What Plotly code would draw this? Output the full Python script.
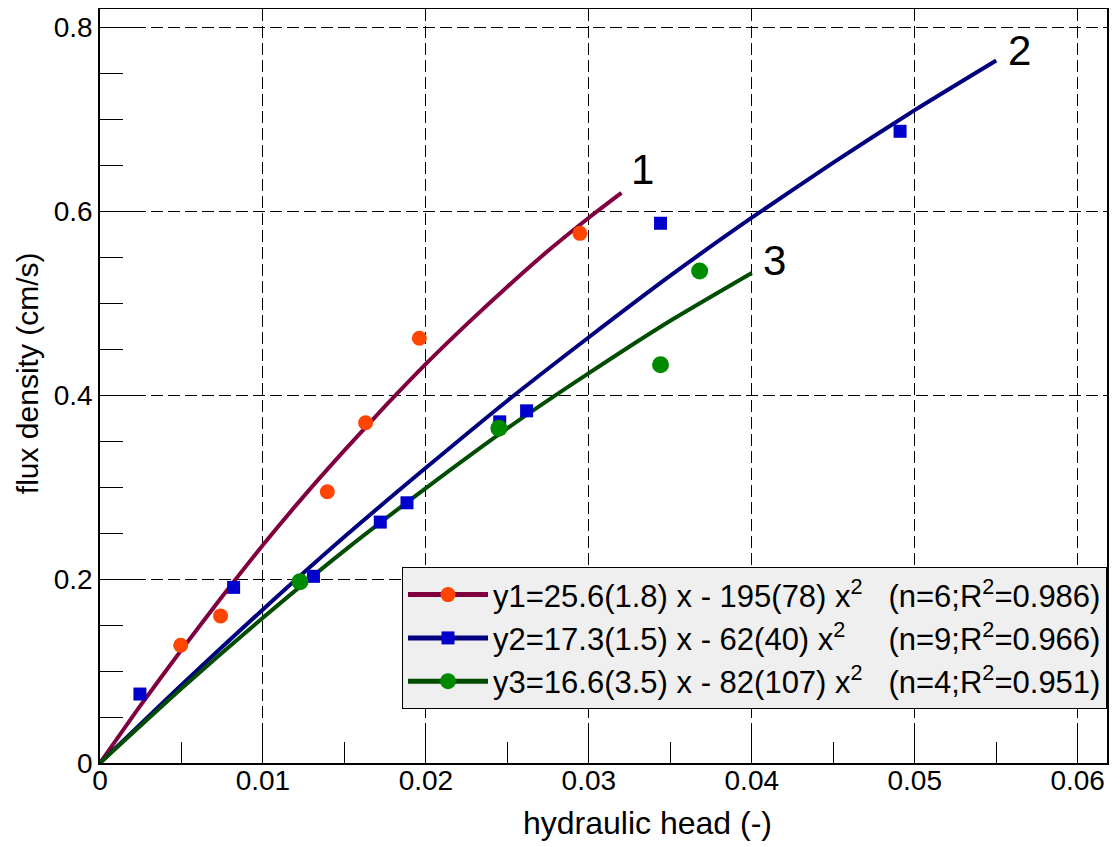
import plotly.graph_objects as go

# ---- measured data points ----
s1_x = [0.00495, 0.0074, 0.01395, 0.0163, 0.0196, 0.02945]
s1_y = [0.128, 0.160, 0.295, 0.370, 0.462, 0.576]

s2_x = [0.00245, 0.0082, 0.0131, 0.0172, 0.01884, 0.02453, 0.02618, 0.0344, 0.0491]
s2_y = [0.075, 0.191, 0.203, 0.262, 0.283, 0.371, 0.383, 0.587, 0.687]

s3_x = [0.01227, 0.02448, 0.0344, 0.0368]
s3_y = [0.197, 0.364, 0.433, 0.535]

# ---- fitted curves ----
fit1_x = [0, 0.0025, 0.005, 0.0075, 0.01, 0.0125, 0.015, 0.0175, 0.02, 0.0225, 0.025, 0.0275, 0.03, 0.032]
fit1_y = [0, 0.063, 0.123, 0.181, 0.237, 0.290, 0.340, 0.388, 0.434, 0.477, 0.518, 0.557, 0.593, 0.620]

fit2_x = [0, 0.005, 0.01, 0.015, 0.02, 0.025, 0.03, 0.035, 0.04, 0.045, 0.05, 0.055]
fit2_y = [0, 0.085, 0.167, 0.246, 0.321, 0.394, 0.463, 0.530, 0.593, 0.653, 0.710, 0.764]

fit3_x = [0, 0.005, 0.01, 0.015, 0.02, 0.025, 0.03, 0.035, 0.04]
fit3_y = [0, 0.081, 0.158, 0.231, 0.299, 0.364, 0.424, 0.481, 0.533]

legend_names = [
    "y1=25.6(1.8) x - 195(78) x<sup>2</sup>\u00a0\u00a0\u00a0(n=6;R<sup>2</sup>=0.986)",
    "y2=17.3(1.5) x - 62(40) x<sup>2</sup>\u00a0\u00a0\u00a0\u00a0\u00a0(n=9;R<sup>2</sup>=0.966)",
    "y3=16.6(3.5) x - 82(107) x<sup>2</sup>\u00a0\u00a0\u00a0(n=4;R<sup>2</sup>=0.951)",
]
curve_labels = ["1", "2", "3"]
label_x = [0.0333, 0.0564, 0.0414]
label_y = [0.645, 0.775, 0.547]

x_title = "hydraulic head (-)"
y_title = "flux density (cm/s)"

line_colors = ["#80003F", "#00007F", "#004C00"]
marker_colors = ["#FF4500", "#0000CC", "#008A00"]
marker_symbols = ["circle", "square", "circle"]
marker_sizes = [15, 13, 17]

FONT = "Liberation Sans, Arial, sans-serif"

fig = go.Figure()
fits = [(fit1_x, fit1_y), (fit2_x, fit2_y), (fit3_x, fit3_y)]
pts = [(s1_x, s1_y), (s2_x, s2_y), (s3_x, s3_y)]

for i in range(3):
    fig.add_trace(go.Scatter(x=fits[i][0], y=fits[i][1], mode="lines",
                             line=dict(color=line_colors[i], width=4, shape="spline", smoothing=0.6),
                             showlegend=False, hoverinfo="skip"))
for i in range(3):
    fig.add_trace(go.Scatter(x=pts[i][0], y=pts[i][1], mode="markers",
                             marker=dict(color=marker_colors[i], symbol=marker_symbols[i],
                                         size=marker_sizes[i], line=dict(width=0)),
                             showlegend=False))
for i in range(3):
    fig.add_trace(go.Scatter(x=[None], y=[None], mode="lines+markers", name=legend_names[i],
                             line=dict(color=line_colors[i], width=5),
                             marker=dict(color=marker_colors[i], symbol=marker_symbols[i],
                                         size=marker_sizes[i])))

for i in range(3):
    fig.add_annotation(x=label_x[i], y=label_y[i], text=curve_labels[i], showarrow=False,
                       font=dict(size=42, color="black", family=FONT),
                       xanchor="center", yanchor="middle")

# axis titles as annotations (placed where the reference shows them)
fig.add_annotation(xref="paper", yref="paper", x=0.544, y=-0.0796, text=x_title,
                   showarrow=False, xanchor="center", yanchor="middle",
                   font=dict(size=32, color="black", family=FONT))
fig.add_annotation(xref="paper", yref="paper", x=-0.0725, y=0.517, text=y_title,
                   showarrow=False, xanchor="center", yanchor="middle", textangle=-90,
                   font=dict(size=30, color="black", family=FONT))

axis_common = dict(
    showline=True, linecolor="black", linewidth=1.5, mirror=True,
    ticks="inside", ticklen=35, tickwidth=1.2, tickcolor="black",
    showgrid=True, gridcolor="black", gridwidth=1, griddash="12px,5px",
    zeroline=False, automargin=False,
    tickfont=dict(size=28, color="black", family=FONT),
)

fig.update_xaxes(range=[0, 0.0618], dtick=0.01, tick0=0, **axis_common,
                 ticklabelstandoff=-8,
                 minor=dict(ticks="inside", ticklen=21, dtick=0.005, tickcolor="black",
                            tickwidth=1.2, showgrid=False))
fig.update_yaxes(range=[0, 0.82], dtick=0.2, tick0=0, **axis_common,
                 minor=dict(ticks="inside", ticklen=23, dtick=0.05, tickcolor="black",
                            tickwidth=1.2, showgrid=False))

# the page body has an 8px default margin; size the figure so the plot area
# lands where the reference has it
fig.update_layout(
    width=1112, height=839,
    margin=dict(l=92, r=13, t=1, b=84),
    paper_bgcolor="white", plot_bgcolor="white",
    font=dict(family=FONT, color="black"),
    legend=dict(x=1, y=0.26, xanchor="right", yanchor="top",
                bgcolor="#EFEFEF", bordercolor="black", borderwidth=1,
                font=dict(size=31, color="black", family=FONT),
                itemwidth=80, tracegroupgap=0),
)

fig.write_html("out.html")
